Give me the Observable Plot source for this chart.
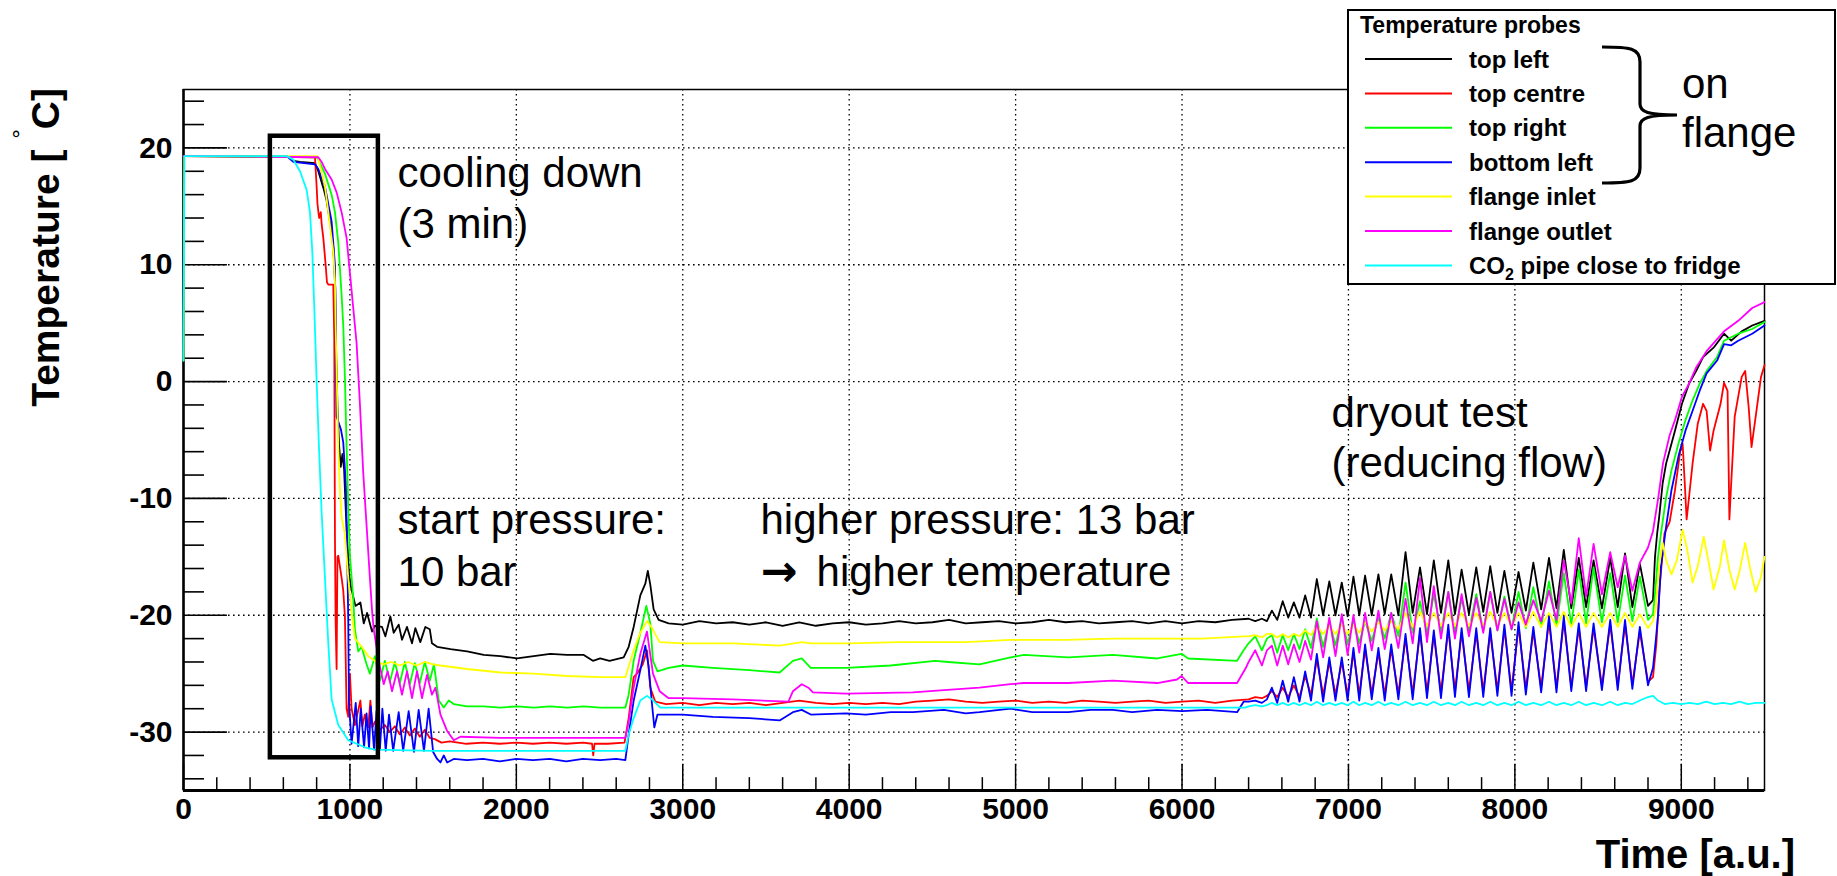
<!DOCTYPE html>
<html>
<head>
<meta charset="utf-8">
<script src="https://cdn.jsdelivr.net/npm/d3@7"></script>
<script src="https://cdn.jsdelivr.net/npm/@observablehq/plot@0.6"></script>
<style>
  html, body { margin: 0; padding: 0; background: #ffffff; overflow: hidden; }
  #chart svg { display: block; }
</style>
</head>
<body>
<div id="chart"></div>
<script>
// ---------------- DATA ----------------
const seriesNames = ["top left", "top centre", "top right", "bottom left", "flange inlet", "flange outlet", "CO2 pipe close to fridge"];
const seriesColors = ["#000000", "#ff0000", "#00ff00", "#0000ff", "#ffff00", "#ff00ff", "#00ffff"];

const xMajorTicks = [0, 1000, 2000, 3000, 4000, 5000, 6000, 7000, 8000, 9000];
const yMajorTicks = [-30, -20, -10, 0, 10, 20];

// shared time grid of the dryout oscillations (peaks / troughs)
const dryTime = [6400,6440,6480,6510,6540,6572,6605,6638,6672,6706,
  6740,6775,6810,6848,6885,6922,6960,6995,7030,7065,
  7100,7140,7180,7218,7257,7300,7343,7386,7430,7472,
  7513,7556,7600,7640,7680,7724,7768,7810,7852,7895,
  7937,7980,8022,8066,8111,8158,8205,8250,8294,8339,
  8384,8428,8473,8523,8573,8618,8662,8706,8751,8800,
  8830];

// ---- top left (black)
const topLeftStart = [[0,19.3],[620,19.3],[660,18.9],[700,18.8],[790,18.7],[810,18.0],[840,16.6],[860,15.5],[880,13.7],[900,11.5],[912,8.0],[918,2.0],[925,-2.0],[935,-5.5],[945,-7.3],[955,-6.2],[965,-7.5],[975,-11.0],[985,-14.0],[995,-16.5],[1005,-17.5],[1033,-19.2],[1063,-18.9],[1083,-20.7],[1103,-19.8],[1133,-21.4],[1150,-20.9],[1193,-21.0],[1213,-21.8],[1243,-20.1],[1263,-21.5],[1293,-20.8],[1313,-22.1],[1343,-21.0],[1373,-22.4],[1393,-21.1],[1423,-22.3],[1453,-21.0],[1480,-21.2],[1493,-22.4],[1524,-22.7],[1604,-22.9],[1704,-23.1],[1804,-23.4],[1904,-23.5],[2004,-23.7],[2104,-23.5],[2204,-23.3],[2304,-23.4],[2405,-23.4],[2460,-23.9],[2504,-23.7],[2560,-23.9],[2645,-23.6],[2675,-22.7],[2705,-21.0],[2745,-18.3],[2775,-17.3],[2790,-16.2],[2805,-17.4],[2825,-19.5],[2855,-20.4],[2915,-20.7],[3000,-20.8],[3100,-20.5],[3200,-20.7],[3300,-20.6],[3400,-20.8],[3500,-20.6],[3600,-20.9],[3700,-20.6],[3800,-20.9],[3900,-20.7],[4000,-20.6],[4100,-20.8],[4200,-20.7],[4300,-20.5],[4400,-20.7],[4500,-20.6],[4600,-20.4],[4700,-20.7],[4800,-20.6],[4900,-20.5],[5000,-20.7],[5100,-20.6],[5200,-20.4],[5300,-20.6],[5400,-20.5],[5500,-20.7],[5600,-20.6],[5700,-20.5],[5800,-20.7],[5900,-20.5],[6000,-20.7],[6100,-20.5],[6200,-20.6],[6300,-20.4]];
const topLeftDry = [-20.3,-20.5,-20.3,-20.5,-19.6,-20.4,-18.8,-20.2,-18.9,-20.2,
  -18.3,-20.2,-16.9,-20.0,-17.1,-20.0,-17.2,-20.1,-16.7,-20.0,
  -16.6,-20.0,-16.5,-19.9,-16.5,-20.0,-14.6,-19.8,-15.9,-19.9,
  -15.3,-19.8,-15.3,-19.9,-16.1,-19.9,-15.9,-19.7,-15.8,-19.8,
  -16.2,-19.8,-16.3,-19.6,-15.5,-19.5,-15.1,-19.4,-14.4,-19.4,
  -15.1,-19.3,-15.3,-19.4,-15.1,-19.3,-14.7,-19.3,-15.6,-19.2,
  -18.7];
const topLeftEnd = [[8842,-15.0],[8855,-13.0],[8867,-11.6],[8888,-8.7],[8909,-7.0],[8930,-5.9],[8962,-4.2],[9004,-1.9],[9046,-0.2],[9089,0.9],[9131,2.1],[9194,2.9],[9257,4.1],[9300,3.5],[9363,4.3],[9426,4.8],[9500,5.2]];

// ---- top centre (red)
const topCentreStart = [[0,19.3],[790,19.2],[800,16.7],[805,15.2],[815,14.0],[825,14.5],[830,13.5],[840,12.3],[848,11.0],[854,10.0],[862,8.5],[870,8.3],[900,8.3],[906,3.7],[910,-13.1],[914,-20.5],[920,-24.6],[925,-15.0],[930,-14.9],[950,-16.8],[960,-17.9],[970,-20.1],[980,-28.0],[990,-28.7],[1000,-25.0],[1010,-28.0],[1030,-29.4],[1063,-27.3],[1075,-29.5],[1090,-28.5],[1110,-29.6],[1123,-27.3],[1135,-29.6],[1150,-29.1],[1180,-29.8],[1210,-29.4],[1240,-30.0],[1270,-29.5],[1300,-30.2],[1330,-29.6],[1360,-30.3],[1390,-29.7],[1420,-30.4],[1450,-29.8],[1480,-30.5],[1510,-30.6],[1550,-30.9],[1600,-30.8],[1700,-31.0],[1800,-30.9],[1900,-31.0],[2000,-30.9],[2100,-31.0],[2200,-30.9],[2300,-31.0],[2400,-30.9],[2455,-31.0],[2462,-32.0],[2470,-31.0],[2550,-31.0],[2650,-30.9],[2675,-28.8],[2705,-25.3],[2725,-25.0],[2760,-24.2],[2785,-23.0],[2805,-26.2],[2835,-27.4],[2900,-27.6],[3000,-27.5],[3100,-27.7],[3200,-27.5],[3300,-27.6],[3400,-27.5],[3500,-27.7],[3600,-27.5],[3700,-27.3],[3800,-27.5],[3900,-27.6],[4000,-27.5],[4100,-27.6],[4200,-27.5],[4300,-27.6],[4400,-27.4],[4500,-27.3],[4600,-27.2],[4700,-27.4],[4800,-27.5],[4900,-27.4],[5000,-27.3],[5100,-27.5],[5200,-27.4],[5300,-27.5],[5400,-27.3],[5500,-27.4],[5600,-27.5],[5700,-27.4],[5800,-27.3],[5900,-27.5],[6000,-27.4],[6100,-27.3],[6200,-27.5],[6300,-27.3]];
const topCentreDry = [-27.2,-27.0,-27.1,-26.9,-26.5,-27.0,-26.2,-27.0,-26.0,-27.0,
  -25.2,-26.8,-23.8,-26.8,-24.0,-26.8,-24.0,-26.8,-23.2,-26.8,
  -22.9,-26.7,-23.2,-26.8,-22.9,-26.7,-22.0,-26.7,-21.5,-26.6,
  -21.7,-26.6,-21.2,-26.5,-21.5,-26.5,-21.5,-26.5,-21.5,-26.4,
  -21.2,-26.4,-21.0,-26.3,-21.4,-26.2,-20.5,-26.2,-20.5,-26.1,
  -21.1,-26.1,-21.1,-26.0,-20.8,-26.0,-20.8,-25.9,-21.4,-25.7,
  -25.3];
const topCentreEnd = [[8850,-22.5],[8870,-17.5],[8899,-13.0],[8930,-12.0],[8962,-9.3],[8994,-5.9],[9008,-5.3],[9022,-9.0],[9032,-11.8],[9042,-10.5],[9068,-7.0],[9099,-3.6],[9131,-1.9],[9152,-2.5],[9173,-5.9],[9194,-4.2],[9236,-1.9],[9257,-0.1],[9278,-0.8],[9289,-11.8],[9300,-8.7],[9321,-3.0],[9363,0.4],[9384,0.9],[9405,-2.2],[9422,-5.6],[9447,-3.0],[9479,0.4],[9500,1.4]];

// ---- top right (green)
const topRightStart = [[0,19.3],[800,19.2],[810,19.0],[850,17.8],[890,16.0],[910,14.5],[930,11.9],[950,7.4],[960,4.8],[970,0.3],[980,-5.6],[990,-10.8],[1000,-14.9],[1020,-18.6],[1030,-21.2],[1050,-23.1],[1070,-22.7],[1100,-24.2],[1120,-25.0],[1150,-23.5],[1180,-25.6],[1210,-23.9],[1240,-25.7],[1270,-24.0],[1300,-25.8],[1330,-24.0],[1360,-25.9],[1390,-24.1],[1420,-25.8],[1450,-24.0],[1480,-25.6],[1505,-24.2],[1534,-27.3],[1564,-27.9],[1594,-27.3],[1624,-27.6],[1704,-27.8],[1804,-27.8],[1904,-27.9],[2004,-27.8],[2104,-27.9],[2204,-27.8],[2304,-27.9],[2404,-27.8],[2504,-27.9],[2655,-27.9],[2675,-26.8],[2705,-23.9],[2745,-21.5],[2781,-19.2],[2805,-20.7],[2821,-23.9],[2848,-24.8],[2915,-24.5],[3000,-24.3],[3181,-24.5],[3400,-24.7],[3582,-24.9],[3662,-23.9],[3715,-23.7],[3769,-24.5],[3982,-24.5],[4249,-24.3],[4516,-23.9],[4596,-24.0],[4783,-24.2],[4970,-23.6],[5050,-23.4],[5317,-23.6],[5584,-23.4],[5851,-23.7],[5997,-23.3],[6037,-23.7],[6331,-23.9],[6370,-23.0]];
const topRightDry = [-22.4,-21.8,-23.0,-22.0,-21.7,-23.2,-21.7,-23.0,-21.6,-22.9,
  -21.2,-22.8,-20.3,-22.7,-20.5,-22.6,-20.2,-22.5,-20.4,-22.4,
  -20.5,-22.2,-20.2,-22.0,-19.8,-21.8,-17.2,-21.5,-18.8,-21.6,
  -18.2,-21.4,-18.0,-21.5,-18.6,-21.4,-18.2,-21.3,-18.0,-21.3,
  -18.4,-21.2,-18.0,-21.1,-17.6,-21.0,-17.1,-20.9,-16.4,-20.8,
  -16.1,-20.7,-15.9,-20.6,-16.4,-20.6,-16.6,-20.5,-16.7,-20.4,
  -19.9];
const topRightEnd = [[8846,-17.5],[8860,-15.0],[8878,-13.0],[8909,-9.9],[8941,-7.6],[8983,-5.3],[9025,-3.3],[9068,-1.6],[9110,-0.2],[9152,0.9],[9215,2.1],[9257,3.5],[9300,3.8],[9342,4.1],[9426,4.5],[9500,5.1]];

// ---- bottom left (blue)
const bottomLeftStart = [[0,19.3],[620,19.3],[660,18.8],[790,18.6],[810,18.2],[850,16.7],[890,13.7],[910,10.0],[914,4.1],[920,-3.0],[946,-4.1],[960,-5.2],[970,-7.5],[976,-9.3],[984,-14.9],[990,-20.5],[994,-27.2],[1000,-28.7],[1010,-31.0],[1035,-27.5],[1050,-31.2],[1065,-28.0],[1085,-31.3],[1100,-28.4],[1115,-31.4],[1125,-27.8],[1145,-31.5],[1160,-28.2],[1180,-31.5],[1195,-28.0],[1215,-31.6],[1235,-28.5],[1260,-31.6],[1293,-28.3],[1320,-31.6],[1353,-28.2],[1385,-31.7],[1413,-28.1],[1445,-31.6],[1473,-28.0],[1500,-31.7],[1524,-32.3],[1544,-32.6],[1564,-32.0],[1584,-32.6],[1624,-32.3],[1704,-32.4],[1800,-32.3],[1900,-32.5],[2000,-32.3],[2100,-32.4],[2200,-32.3],[2300,-32.5],[2400,-32.3],[2504,-32.4],[2600,-32.3],[2655,-32.4],[2675,-30.2],[2705,-27.3],[2745,-24.7],[2775,-22.6],[2795,-24.4],[2815,-27.6],[2829,-29.6],[2848,-28.5],[2915,-28.5],[3000,-28.5],[3181,-28.7],[3400,-28.8],[3582,-29.0],[3662,-28.3],[3715,-28.1],[3769,-28.5],[3982,-28.4],[4100,-28.5],[4250,-28.3],[4383,-28.3],[4569,-28.1],[4700,-28.4],[4783,-28.3],[4970,-28.0],[5100,-28.3],[5317,-28.3],[5450,-28.1],[5584,-28.1],[5700,-28.3],[5851,-28.1],[6000,-28.2],[6150,-28.1],[6331,-28.3],[6370,-27.4]];
const bottomLeftDry = [-27.4,-27.3,-27.5,-27.2,-26.2,-27.5,-25.6,-27.4,-25.3,-27.4,
  -24.8,-27.3,-23.3,-27.4,-23.6,-27.3,-23.6,-27.3,-22.8,-27.3,
  -22.5,-27.2,-22.8,-27.3,-22.5,-27.2,-21.6,-27.2,-21.1,-27.1,
  -21.3,-27.1,-20.8,-27.0,-21.1,-27.0,-21.1,-27.0,-21.1,-26.9,
  -20.8,-26.9,-20.6,-26.8,-21.0,-26.6,-20.1,-26.6,-20.1,-26.5,
  -20.7,-26.5,-20.7,-26.4,-20.4,-26.4,-20.4,-26.3,-21.0,-26.0,
  -24.5];
const bottomLeftEnd = [[8847,-22.1],[8861,-19.9],[8878,-15.8],[8909,-12.4],[8941,-9.3],[8983,-6.4],[9025,-4.2],[9068,-2.5],[9110,-0.8],[9152,0.7],[9215,1.8],[9257,3.2],[9300,3.1],[9342,3.5],[9426,4.1],[9500,4.8]];

// ---- flange inlet (yellow)
const flangeInletStart = [[0,1.8],[5,19.3],[805,19.3],[810,19.1],[850,16.7],[870,14.5],[900,11.1],[910,8.5],[914,4.8],[930,-5.6],[940,-9.3],[950,-11.6],[970,-13.1],[990,-16.8],[1010,-19.8],[1030,-22.0],[1070,-22.7],[1110,-23.5],[1150,-23.9],[1200,-24.2],[1250,-24.0],[1300,-24.3],[1350,-24.0],[1400,-24.3],[1450,-24.0],[1500,-24.2],[1543,-24.3],[1704,-24.6],[1904,-24.9],[2104,-25.0],[2304,-25.2],[2504,-25.3],[2655,-25.3],[2675,-24.4],[2705,-23.0],[2745,-21.5],[2785,-20.5],[2815,-21.1],[2861,-22.3],[3000,-22.4],[3300,-22.4],[3582,-22.6],[3715,-22.3],[3769,-22.4],[4000,-22.4],[4300,-22.3],[4700,-22.3],[4970,-22.1],[5300,-22.1],[5584,-22.0],[6118,-22.0],[6370,-21.8]];
const flangeInletDry = [-21.8,-21.7,-21.9,-21.6,-21.6,-21.9,-21.6,-21.9,-21.6,-21.8,
  -21.3,-21.7,-20.9,-21.6,-20.9,-21.6,-20.8,-21.6,-20.8,-21.5,
  -20.6,-21.4,-20.6,-21.3,-20.5,-21.2,-19.8,-21.0,-19.7,-20.9,
  -19.8,-20.9,-19.8,-20.9,-19.8,-20.9,-19.8,-20.9,-19.7,-20.9,
  -19.8,-20.9,-19.8,-21.0,-19.7,-21.0,-19.8,-21.0,-19.7,-21.0,
  -19.8,-21.0,-19.8,-21.0,-19.8,-21.0,-19.8,-21.0,-19.9,-21.1,
  -20.5];
const flangeInletEnd = [[8846,-19.5],[8867,-15.8],[8888,-13.8],[8909,-15.3],[8941,-16.5],[8973,-15.3],[9008,-12.7],[9036,-14.4],[9068,-17.2],[9099,-15.8],[9135,-13.3],[9169,-15.8],[9194,-17.8],[9232,-15.8],[9257,-13.6],[9289,-16.1],[9321,-17.8],[9352,-16.1],[9384,-13.8],[9415,-16.1],[9447,-18.0],[9479,-16.7],[9500,-15.0]];

// ---- flange outlet (magenta)
const flangeOutletStart = [[0,19.3],[810,19.2],[830,18.8],[850,18.2],[890,17.3],[920,16.2],[950,14.5],[980,12.3],[1000,9.3],[1020,6.3],[1040,3.3],[1060,-1.9],[1080,-7.8],[1100,-12.3],[1120,-16.8],[1134,-19.8],[1143,-21.2],[1173,-23.9],[1203,-25.9],[1227,-24.8],[1253,-26.5],[1283,-24.8],[1313,-26.8],[1343,-24.8],[1373,-27.1],[1403,-24.8],[1433,-27.1],[1463,-25.1],[1493,-26.8],[1514,-26.2],[1544,-28.5],[1584,-29.9],[1624,-30.7],[1664,-30.4],[1904,-30.5],[2304,-30.5],[2655,-30.5],[2675,-29.1],[2705,-26.2],[2745,-23.3],[2785,-21.4],[2821,-25.0],[2861,-26.5],[2915,-27.1],[3000,-27.1],[3300,-27.2],[3635,-27.4],[3662,-26.5],[3715,-25.9],[3755,-26.2],[3782,-26.6],[3982,-26.7],[4383,-26.6],[4569,-26.4],[4783,-26.2],[4970,-25.9],[5050,-25.8],[5317,-25.8],[5584,-25.6],[5851,-25.8],[5970,-25.5],[5997,-25.2],[6037,-25.8],[6331,-25.8],[6384,-24.5]];
const flangeOutletDry = [-24.0,-23.0,-24.3,-23.0,-22.6,-24.3,-22.6,-24.2,-22.5,-24.0,
  -22.2,-23.8,-20.5,-23.6,-20.2,-23.5,-19.9,-23.4,-20.0,-23.2,
  -19.8,-23.0,-19.6,-22.9,-19.8,-22.8,-18.6,-22.4,-16.8,-22.3,
  -17.5,-22.0,-18.0,-22.0,-18.2,-21.8,-18.5,-21.5,-18.0,-21.3,
  -18.6,-21.2,-18.9,-20.8,-18.7,-20.5,-17.9,-20.4,-15.3,-19.0,
  -13.4,-18.4,-13.9,-18.2,-14.6,-17.6,-14.9,-17.9,-15.5,-14.2,
  -12.8];
const flangeOutletEnd = [[8862,-9.9],[8890,-7.0],[8930,-4.6],[8962,-3.3],[9004,-1.3],[9046,-0.2],[9089,1.2],[9152,2.6],[9257,4.3],[9342,5.2],[9426,6.3],[9500,6.8]];

// ---- CO2 pipe close to fridge (cyan)
const co2PipeStart = [[0,1.8],[5,19.3],[620,19.3],[660,19.0],[700,18.0],[740,16.4],[760,14.5],[774,11.1],[786,6.3],[800,0.0],[814,-5.6],[830,-11.2],[850,-16.8],[870,-22.4],[890,-27.2],[930,-29.4],[990,-30.7],[1090,-31.3],[1150,-31.5],[1500,-31.6],[2655,-31.6],[2675,-30.2],[2705,-28.8],[2745,-27.3],[2785,-26.9],[2815,-27.2],[2865,-27.9],[6380,-27.9]];
const co2PipeDry = [-27.8,-27.7,-27.8,-27.7,-27.5,-27.7,-27.5,-27.7,-27.5,-27.7,
  -27.5,-27.7,-27.4,-27.7,-27.5,-27.7,-27.5,-27.7,-27.4,-27.7,
  -27.5,-27.7,-27.4,-27.7,-27.5,-27.7,-27.4,-27.7,-27.5,-27.7,
  -27.4,-27.7,-27.5,-27.7,-27.4,-27.7,-27.5,-27.7,-27.4,-27.7,
  -27.5,-27.7,-27.4,-27.7,-27.5,-27.7,-27.4,-27.7,-27.5,-27.7,
  -27.4,-27.7,-27.5,-27.7,-27.4,-27.7,-27.5,-27.6,-27.3,-27.0,
  -26.9];
const co2PipeEnd = [[8860,-27.3],[8900,-27.6],[8950,-27.5],[9000,-27.6],[9050,-27.5],[9100,-27.6],[9150,-27.4],[9200,-27.6],[9250,-27.5],[9300,-27.6],[9350,-27.4],[9400,-27.6],[9450,-27.5],[9500,-27.5]];

// annotations
const noteText = ["cooling down", "(3 min)", "start pressure:", "10 bar", "higher pressure: 13 bar", "higher temperature", "dryout test", "(reducing flow)"];
const noteTime = [1286, 1286, 1286, 1286, 3467, 3804, 6898, 6898];
const noteTemp = [16.64, 12.27, -13.05, -17.51, -13.05, -17.51, -3.89, -8.16];
const arrowText = ["\u2192"];
const arrowTime = [3467];
const arrowTemp = [-17.51];

// highlighted cooling-down window
const boxTime = [522, 1171];
const boxTemp = [-32.2, 21.0];

// ---------------- BUILD ----------------
function build(start, dry, end) {
  return [
    ...start.map(([t, v]) => ({t, v})),
    ...dryTime.map((t, i) => ({t, v: dry[i]})),
    ...end.map(([t, v]) => ({t, v}))
  ];
}
const series = [
  build(topLeftStart, topLeftDry, topLeftEnd),
  build(topCentreStart, topCentreDry, topCentreEnd),
  build(topRightStart, topRightDry, topRightEnd),
  build(bottomLeftStart, bottomLeftDry, bottomLeftEnd),
  build(flangeInletStart, flangeInletDry, flangeInletEnd),
  build(flangeOutletStart, flangeOutletDry, flangeOutletEnd),
  build(co2PipeStart, co2PipeDry, co2PipeEnd)
];

const xMinorTicks = d3.range(0, 9501, 200).filter(d => d % 1000 !== 0);
const yMinorTicks = d3.range(-34, 25, 2).filter(d => d % 10 !== 0);
const notes = noteText.map((s, i) => ({s, t: noteTime[i], v: noteTemp[i]}));
const arrows = arrowText.map((s, i) => ({s, t: arrowTime[i], v: arrowTemp[i]}));

const FONT = "'Liberation Sans', Arial, Helvetica, sans-serif";
const dots = "1.6,3.4";

const plot = Plot.plot({
  width: 1837,
  height: 876,
  marginLeft: 183,
  marginRight: 73,
  marginTop: 89,
  marginBottom: 86,
  x: {domain: [0, 9500], axis: null},
  y: {domain: [-35, 25], axis: null},
  style: {fontFamily: FONT, background: "#ffffff", overflow: "visible"},
  marks: [
    Plot.ruleX(xMajorTicks.filter(d => d > 0), {stroke: "#000", strokeWidth: 1.3, strokeDasharray: dots}),
    Plot.ruleY(yMajorTicks, {stroke: "#000", strokeWidth: 1.3, strokeDasharray: dots}),
    // frame, axes and ticks (inside the frame, ROOT style)
    Plot.frame({stroke: "#000", strokeWidth: 1.5}),
    Plot.ruleX([0], {stroke: "#000", strokeWidth: 2.5}),
    Plot.ruleY([-35], {stroke: "#000", strokeWidth: 3}),
    Plot.ruleX(xMajorTicks, {y1: -35, y2: -35 + 2.25, stroke: "#000", strokeWidth: 1.5}),
    Plot.ruleX(xMinorTicks, {y1: -35, y2: -35 + 1.1, stroke: "#000", strokeWidth: 1.5}),
    Plot.ruleY(yMajorTicks, {x1: 0, x2: 264, stroke: "#000", strokeWidth: 1.6}),
    Plot.ruleY(yMinorTicks, {x1: 0, x2: 126, stroke: "#000", strokeWidth: 1.6}),
    // data
    ...series.map((s, i) => Plot.line(s, {x: "t", y: "v", stroke: seriesColors[i], strokeWidth: 1.8})),
    Plot.rect([0], {x1: boxTime[0], x2: boxTime[1], y1: boxTemp[0], y2: boxTemp[1], fill: "none", stroke: "#000", strokeWidth: 4.5}),
    // tick labels
    Plot.text(yMajorTicks, {x: 0, y: d => d, text: d => String(d), textAnchor: "end", lineAnchor: "middle", dx: -11, fontSize: 30, fontWeight: "bold", fill: "#000"}),
    Plot.text(xMajorTicks, {x: d => d, y: -35, text: d => String(d), textAnchor: "middle", lineAnchor: "middle", dy: 19, fontSize: 30, fontWeight: "bold", fill: "#000"}),
    // annotations
    Plot.text(notes, {x: "t", y: "v", text: "s", textAnchor: "start", lineAnchor: "bottom", fontSize: 42, fill: "#000"}),
    Plot.text(arrows, {x: "t", y: "v", text: "s", textAnchor: "start", lineAnchor: "bottom", fontSize: 44, fontWeight: "bold", fontFamily: "'DejaVu Sans', sans-serif", fill: "#000"})
  ]
});

document.getElementById("chart").appendChild(plot);

// ---------------- DECORATIONS (titles, legend) ----------------
const svg = d3.select(plot);

// y title with raised degree sign
const yTitle = svg.append("text")
  .attr("transform", "translate(59,88) rotate(-90)")
  .attr("text-anchor", "end")
  .attr("font-family", FONT)
  .attr("font-size", 39)
  .attr("font-weight", "bold")
  .attr("fill", "#000");
yTitle.append("tspan").text("Temperature [ ");
yTitle.append("tspan").attr("font-size", 24).attr("font-weight", "normal").attr("dy", -30).text("\u00B0");
yTitle.append("tspan").attr("dy", 30).text("C]");

// x title
svg.append("text")
  .attr("x", 1795).attr("y", 868)
  .attr("text-anchor", "end")
  .attr("font-family", FONT)
  .attr("font-size", 40)
  .attr("font-weight", "bold")
  .attr("fill", "#000")
  .text("Time [a.u.]");

// legend
const lg = svg.append("g").attr("font-family", FONT).attr("text-anchor", "start");
lg.append("rect").attr("x", 1348).attr("y", 10).attr("width", 487).attr("height", 274)
  .attr("fill", "#ffffff").attr("stroke", "#000").attr("stroke-width", 2);
lg.append("text").attr("x", 1360).attr("y", 33).attr("text-anchor", "start").attr("font-size", 23).attr("font-weight", "bold")
  .attr("fill", "#000").text("Temperature probes");
seriesNames.forEach((name, i) => {
  const cy = 59 + i * 34.4;
  lg.append("line").attr("x1", 1365).attr("x2", 1452).attr("y1", cy).attr("y2", cy)
    .attr("stroke", seriesColors[i]).attr("stroke-width", 2);
  const tx = lg.append("text").attr("x", 1469).attr("y", cy + 8.5).attr("text-anchor", "start").attr("font-size", 24)
    .attr("font-weight", "bold").attr("fill", "#000");
  if (name.startsWith("CO2")) {
    tx.append("tspan").text("CO");
    tx.append("tspan").attr("font-size", 16).attr("dy", 6).text("2");
    tx.append("tspan").attr("dy", -6).text(name.slice(3));
  } else {
    tx.text(name);
  }
});

// brace and "on flange"
svg.append("path")
  .attr("d", "M1602,47 C1630,47 1640,48 1640,62 L1640,104 C1640,112 1648,115 1677,115 C1648,115 1640,118 1640,126 L1640,168 C1640,182 1630,183 1602,183")
  .attr("fill", "none").attr("stroke", "#000").attr("stroke-width", 3.2);
svg.append("text").attr("x", 1682).attr("y", 98).attr("text-anchor", "start").attr("font-family", FONT).attr("font-size", 42).attr("fill", "#000").text("on");
svg.append("text").attr("x", 1682).attr("y", 147).attr("text-anchor", "start").attr("font-family", FONT).attr("font-size", 42).attr("fill", "#000").text("flange");
</script>
</body>
</html>
